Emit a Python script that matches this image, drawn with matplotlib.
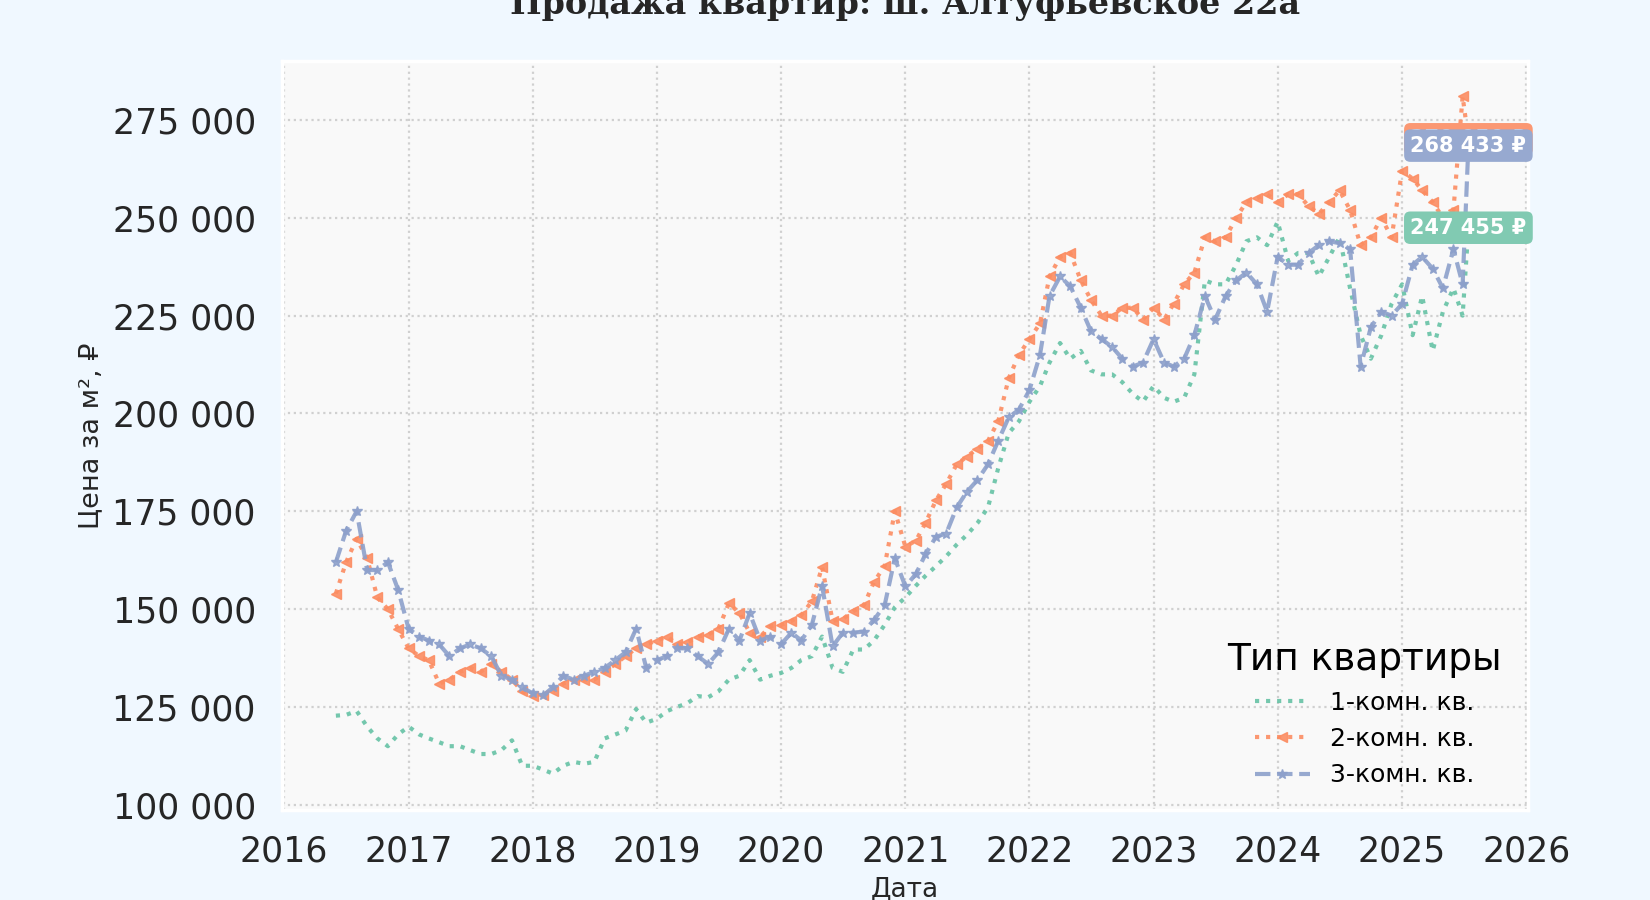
import numpy as np
import pandas as pd
import matplotlib
matplotlib.use('Agg')
import matplotlib.pyplot as plt
from matplotlib.ticker import FuncFormatter

# Даты: помесячно + две последние точки (июнь-июль 2025)
dates = list(pd.date_range('2016-06-01', '2025-06-01', freq='MS')) + \
        [pd.Timestamp('2025-06-28'), pd.Timestamp('2025-07-15')]

# Цена за м², тыс. руб.
price_1k = [122.8, 123, 124, 120, 117, 115, 118,
            120, 118, 117, 116, 115, 115, 114, 113, 113, 114, 116.5, 110,
            110, 109, 108, 110, 111, 110.5, 111, 117, 118, 119, 124.5, 121,
            122, 124, 125, 126, 127.8, 127.5, 129, 132, 133, 137, 132, 133,
            133.7, 135, 137, 138, 143, 135, 134, 139.7, 139.7, 142, 146, 150.5,
            153, 156, 158.5, 161, 163.5, 166.5, 169, 172, 176, 186, 195, 198,
            203, 207, 213, 218, 214, 216, 211, 210, 210, 208, 205, 203,
            207, 204, 203, 204, 210, 234, 233, 233, 238, 244, 245, 243,
            249, 239, 241, 241, 235, 240, 245, 232, 220, 214, 220, 228,
            233, 220, 230, 216, 226, 232,
            225, 247.455]

price_2k = [154, 162, 168, 163, 153, 150, 145,
            140, 138, 137, 131, 132, 134, 135, 134, 136, 134, 132, 129,
            127.7, 128, 129, 131, 132, 132, 132, 134, 136, 138, 140, 141,
            142, 143, 141, 141.5, 143, 143.5, 145, 151.5, 149, 144, 143, 145.6,
            146, 147, 148.5, 152, 160.8, 147, 147.5, 149.5, 151, 157, 161, 175,
            166, 167.5, 172, 177.8, 182, 187, 189, 191, 193, 198, 209, 215,
            219, 223, 235, 240, 241, 234, 229, 225, 225, 227, 227, 224,
            227, 224, 228, 233, 236, 245, 244, 245, 250, 254, 255, 256,
            254, 256, 256, 253, 251, 254, 257, 252, 243, 245, 250, 245,
            262, 260, 257, 254, 250, 252,
            281, 270.05]

price_3k = [162, 170, 175, 160, 160, 162, 155,
            145, 143, 142, 141, 138, 140, 141, 140, 138, 133, 132, 130,
            128.5, 128, 130, 133, 132, 133, 134, 135, 137, 139, 145, 135,
            137, 138, 140, 140, 138, 136, 139, 145, 142, 149, 142, 143,
            141, 144, 142, 146, 156, 140.5, 144, 144, 144.3, 147.3, 151, 163,
            155.8, 159, 164, 168.5, 169.3, 176, 180, 183, 187, 193, 199, 201,
            206, 215, 230, 235, 232.5, 227, 221, 219, 217, 214, 212, 213,
            219, 213, 212, 214, 220, 230, 224, 230, 234, 236, 233, 226,
            240, 238, 238, 241, 243, 244, 243.5, 242, 212, 222, 226, 225,
            228, 238, 240, 237, 232, 242,
            233, 268.433]

labels = ['1-комн. кв.', '2-комн. кв.', '3-комн. кв.']
colors = ['#66c2a5', '#fc8d62', '#8da0cb']
box_colors = ['#81cab2', '#fb9873', '#97a9d0']   # те же цвета, осветлённые, но непрозрачные

def fmt_space(v, pos=None):
    return f'{int(round(v)):,}'.replace(',', ' ')

fig = plt.figure(figsize=(16.5, 9), dpi=100, facecolor='#f0f8ff')
ax = fig.add_axes([0.171, 0.1, 0.755, 0.832])
ax.set_facecolor('#f9f9f9')

series = [np.array(price_1k) * 1000, np.array(price_2k) * 1000, np.array(price_3k) * 1000]
styles = [dict(ls=':', lw=3, marker=None),
          dict(ls=':', lw=3, marker='<', ms=7),
          dict(ls='--', lw=3, marker='*', ms=7)]

for y, lab, c, st in zip(series, labels, colors, styles):
    ax.plot(dates, y, color=c, label=lab, alpha=0.9, **st)

# подписи последних значений (оранжевая прячется за синей, как в исходнике)
for y, c in zip(series, box_colors):
    ax.text(dates[-1], y[-1], fmt_space(y[-1]) + ' ₽', ha='center', va='center',
            color='white', fontsize=15, fontweight='bold',
            bbox=dict(boxstyle='round,pad=0.3', fc=c, ec='none'))

ax.set_xlim(pd.Timestamp('2015-12-26'), pd.Timestamp('2026-01-06'))
ax.set_ylim(98700, 290000)
ax.set_xticks([pd.Timestamp(f'{yr}-01-01') for yr in range(2016, 2027)])
ax.set_xticklabels([str(yr) for yr in range(2016, 2027)])
ax.set_yticks(np.arange(100000, 275001, 25000))
ax.yaxis.set_major_formatter(FuncFormatter(fmt_space))
ax.tick_params(axis='both', length=0, labelsize=25, colors='#262626')
ax.tick_params(axis='y', pad=19)
ax.tick_params(axis='x', pad=18)

ax.grid(True, ls=':', lw=1.6, color='#d0d0d0')
for s in ax.spines.values():
    s.set_color('white')
    s.set_linewidth(2.5)

ax.set_xlabel('Дата', fontsize=19, color='#262626')
ax.set_ylabel('Цена за м², ₽', fontsize=19.5, color='#262626')
ax.xaxis.set_label_coords(0.5, -0.088)
ax.yaxis.set_label_coords(-0.143, 0.5)

leg = ax.legend(title='Тип квартиры', loc='lower right', bbox_to_anchor=(0.997, 0.0),
                frameon=False, fontsize=18, title_fontsize=27, handlelength=2.2)

fig.text(0.171 + 0.755 / 2, 1 - 14 / 900, 'Продажа квартир: ш. Алтуфьевское 22а',
         ha='center', va='baseline', fontsize=24, fontweight='bold',
         family='DejaVu Serif', color='#262626')

fig.savefig('out.png', dpi=100, facecolor=fig.get_facecolor())
